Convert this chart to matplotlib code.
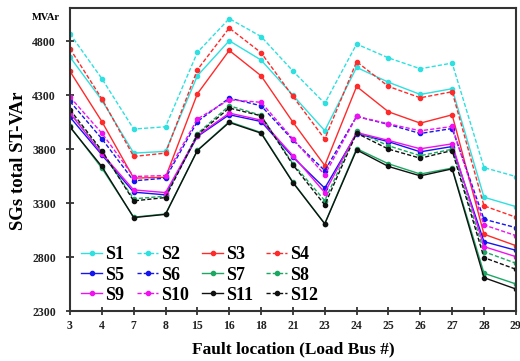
import matplotlib
matplotlib.use("Agg")
import matplotlib.pyplot as plt
import numpy as np

buses = ["3", "4", "7", "8", "15", "16", "18", "21", "23", "24", "25", "26", "27", "28", "29"]

S1 = [4655, 4255, 3764, 3780, 4481, 4806, 4627, 4300, 3972, 4559, 4421, 4308, 4361, 3355, 3268]
S2 = [4870, 4455, 3987, 4008, 4698, 5011, 4845, 4525, 4225, 4775, 4647, 4546, 4599, 3630, 3547]
S3 = [4522, 4057, 3532, 3540, 4314, 4716, 4481, 4051, 3649, 4382, 4147, 4042, 4119, 3012, 2906]
S4 = [4732, 4268, 3733, 3764, 4537, 4924, 4695, 4290, 3894, 4612, 4382, 4277, 4333, 3275, 3170]
S5 = [4098, 3748, 3402, 3377, 3918, 4120, 4057, 3727, 3439, 3945, 3870, 3776, 3825, 2943, 2863]
S6 = [4243, 3897, 3507, 3532, 4057, 4274, 4203, 3885, 3602, 4104, 4030, 3946, 3992, 3151, 3073]
S7 = [4011, 3625, 3170, 3200, 3790, 4055, 3955, 3495, 3110, 3805, 3665, 3570, 3625, 2650, 2551]
S8 = [4140, 3775, 3340, 3365, 3945, 4203, 4115, 3665, 3324, 3965, 3832, 3740, 3800, 2850, 2743]
S9 = [4135, 3760, 3423, 3398, 3925, 4135, 4070, 3740, 3398, 3955, 3882, 3804, 3850, 2897, 2804]
S10 = [4284, 3949, 3547, 3556, 4080, 4259, 4235, 3895, 3562, 4104, 4036, 3971, 4011, 3098, 2999]
S11 = [4005, 3640, 3166, 3196, 3788, 4048, 3949, 3491, 3108, 3794, 3640, 3553, 3618, 2609, 2504]
S12 = [4166, 3788, 3321, 3352, 3934, 4182, 4110, 3655, 3284, 3949, 3801, 3717, 3788, 2795, 2687]

names = ["S1", "S2", "S3", "S4", "S5", "S6", "S7", "S8", "S9", "S10", "S11", "S12"]
series = [S1, S2, S3, S4, S5, S6, S7, S8, S9, S10, S11, S12]
colors = ["#2EE0E0", "#2EE0E0", "#FF2A2A", "#FF2A2A", "#1515F0", "#1515F0",
          "#1BA862", "#1BA862", "#F010F0", "#F010F0", "#111111", "#111111"]
styles = ["-", "--", "-", "--", "-", "--", "-", "--", "-", "--", "-", "--"]

serif = ["Liberation Serif", "DejaVu Serif"]
plt.rcParams["font.family"] = serif
plt.rcParams["font.weight"] = "bold"

fig = plt.figure(figsize=(5.2, 3.61), dpi=100)
ax = fig.add_axes([0.1346, 0.1385, 0.992 - 0.1346, 0.978 - 0.1385])

x = np.arange(len(buses))
handles = []
for name, ys, c, ls in zip(names, series, colors, styles):
    h, = ax.plot(x, ys, color=c, ls=ls, lw=1.0, marker="o", markersize=3.0,
                 label=name, dashes=(3, 1.5) if ls == "--" else (None, None))
    handles.append(h)

ax.set_xlim(0, len(buses) - 1)
ax.set_ylim(2300, 5110)
ax.set_xticks(x)
ax.set_xticklabels(buses)
ax.set_yticks([2300, 2800, 3300, 3800, 4300, 4800])
ax.tick_params(direction="inout", length=6, width=1.2, labelsize=8.5, colors="#222222")
ax.tick_params(axis="y", pad=7)
for lab in ax.get_xticklabels() + ax.get_yticklabels():
    lab.set_fontweight("bold")
for s in ax.spines.values():
    s.set_linewidth(1.5)
    s.set_color("#333333")

ax.set_ylabel("SGs total ST-VAr", fontsize=13.5, fontweight="bold")
ax.yaxis.set_label_coords(-0.097, 0.495)
ax.set_xlabel("Fault location (Load Bus #)", fontsize=12.5, fontweight="bold", labelpad=6.5)
fig.text(0.062, 0.952, "MVAr", fontsize=7.5, fontweight="bold", ha="left", va="center")

order = [0, 4, 8, 1, 5, 9, 2, 6, 10, 3, 7, 11]
leg = ax.legend([handles[i] for i in order], [names[i] for i in order], ncol=4,
                loc="lower left", bbox_to_anchor=(0.009, 0.0), frameon=False,
                prop={"family": serif, "weight": "bold", "size": 13},
                handlelength=1.15, handletextpad=0.15, columnspacing=0.75,
                labelspacing=0.18, borderaxespad=0.0)

fig.savefig("out.png", dpi=100)
